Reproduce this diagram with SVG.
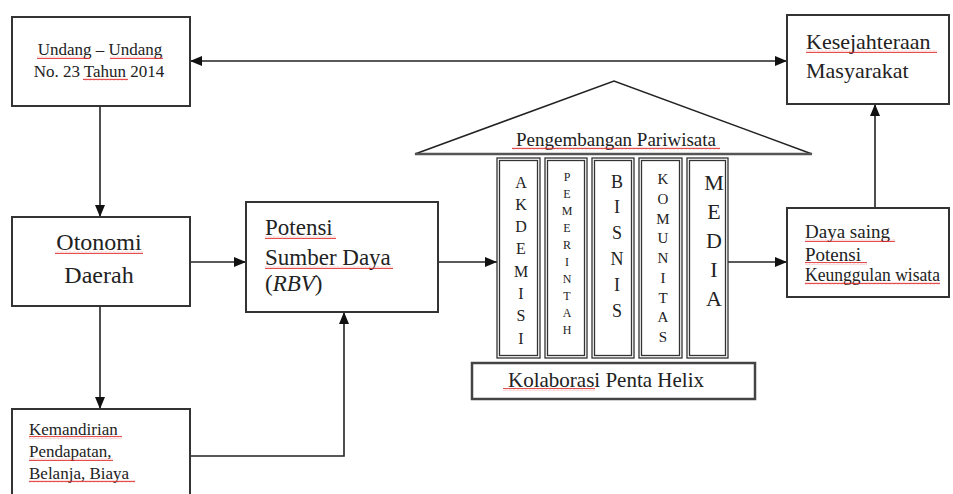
<svg xmlns="http://www.w3.org/2000/svg" width="953" height="494" viewBox="0 0 953 494">
<style>
.box{fill:#fff;stroke:#333;stroke-width:2}
.pl{fill:none;stroke:#333;stroke-width:1.3}
.t{font-family:"Liberation Serif","Times New Roman",serif;fill:#222}
.c{stroke:#222;stroke-width:1.6;fill:none}
.w{fill:url(#wavy)}
</style>
<defs>
<marker id="ah" viewBox="0 0 12 10" markerWidth="12" markerHeight="10" refX="12" refY="5" orient="auto-start-reverse" markerUnits="userSpaceOnUse">
<path d="M0,0 L12,5 L0,10 z" fill="#111"/>
</marker>
<pattern id="wavy" width="4" height="3" patternUnits="userSpaceOnUse">
<path d="M0,2.2 L1,0.8 L2,2.2 L3,0.8 L4,2.2" fill="none" stroke="#e02020" stroke-width="0.8"/>
</pattern>
</defs>
<rect width="953" height="494" fill="#fff"/>

<g id="connectors">
<line class="c" x1="190" y1="61" x2="787" y2="61" marker-start="url(#ah)" marker-end="url(#ah)"/>
<line class="c" x1="100" y1="106" x2="100" y2="217" marker-end="url(#ah)"/>
<line class="c" x1="100" y1="306" x2="100" y2="409" marker-end="url(#ah)"/>
<line class="c" x1="190" y1="262" x2="246" y2="262" marker-end="url(#ah)"/>
<line class="c" x1="438" y1="262" x2="497" y2="262" marker-end="url(#ah)"/>
<polyline class="c" points="190,456 344,456 344,312" marker-end="url(#ah)"/>
<line class="c" x1="728" y1="262" x2="787" y2="262" marker-end="url(#ah)"/>
<line class="c" x1="875" y1="208" x2="875" y2="104" marker-end="url(#ah)"/>
</g>

<g id="undang">
<rect class="box" x="12" y="17" width="178" height="89"/>
<text class="t" x="100" y="55" font-size="17" text-anchor="middle">Undang – Undang</text>
<text class="t" x="99" y="77" font-size="17" text-anchor="middle">No. 23 Tahun 2014</text>
<rect class="w" x="37" y="56" width="53" height="3"/>
<rect class="w" x="110" y="56" width="53" height="3"/>
<rect class="w" x="83" y="78" width="45" height="3"/>
</g>

<g id="kesejahteraan">
<rect class="box" x="787" y="15" width="162" height="89"/>
<text class="t" x="806" y="49" font-size="22">Kesejahteraan</text>
<text class="t" x="806" y="78" font-size="22">Masyarakat</text>
<rect class="w" x="806" y="50" width="131" height="3"/>
</g>

<g id="otonomi">
<rect class="box" x="12" y="217" width="178" height="89"/>
<text class="t" x="99" y="250" font-size="24" text-anchor="middle">Otonomi</text>
<text class="t" x="99" y="283" font-size="24" text-anchor="middle">Daerah</text>
<rect class="w" x="55" y="251" width="88" height="3"/>
</g>

<g id="potensi">
<rect class="box" x="246" y="202" width="192" height="110"/>
<text class="t" x="265" y="235" font-size="23">Potensi</text>
<text class="t" x="265" y="265" font-size="23">Sumber Daya</text>
<text class="t" x="265" y="291" font-size="23">(<tspan font-style="italic">RBV</tspan>)</text>
<rect class="w" x="265" y="236" width="71" height="3"/>
<rect class="w" x="265" y="266" width="128" height="3"/>
</g>

<g id="kemandirian">
<rect class="box" x="12" y="409" width="178" height="100"/>
<text class="t" x="29" y="435" font-size="17">Kemandirian</text>
<text class="t" x="29" y="457" font-size="17">Pendapatan,</text>
<text class="t" x="29" y="479" font-size="17">Belanja, Biaya</text>
<rect class="w" x="29" y="436" width="93" height="3"/>
<rect class="w" x="29" y="458" width="84" height="3"/>
<rect class="w" x="29" y="480" width="106" height="3"/>
</g>

<g id="pengembangan">
<polygon points="415,154 614,81 812,154" fill="#fff" stroke="#222" stroke-width="1.5"/>
<line x1="415" y1="154" x2="812" y2="154" stroke="#555" stroke-width="2.5"/>
<text class="t" x="616" y="146" font-size="19" text-anchor="middle">Pengembangan Pariwisata</text>
<rect class="w" x="512" y="147" width="208" height="3"/>
</g>

<g id="akdemisi">
<rect class="pl" x="497" y="158" width="43" height="200"/>
<rect class="pl" x="499.5" y="160.5" width="38" height="195"/>
<text class="t" font-size="16" text-anchor="middle"><tspan x="521" y="187.5">A</tspan><tspan x="521" dy="22.3">K</tspan><tspan x="521" dy="22.3">D</tspan><tspan x="521" dy="22.3">E</tspan><tspan x="521" dy="22.3">M</tspan><tspan x="521" dy="22.3">I</tspan><tspan x="521" dy="22.3">S</tspan><tspan x="521" dy="22.3">I</tspan></text>
</g>

<g id="pemerintah">
<rect class="pl" x="545" y="158" width="42" height="200"/>
<rect class="pl" x="547.5" y="160.5" width="37" height="195"/>
<text class="t" font-size="12" text-anchor="middle"><tspan x="567" y="181">P</tspan><tspan x="567" dy="17.03">E</tspan><tspan x="567" dy="17.03">M</tspan><tspan x="567" dy="17.03">E</tspan><tspan x="567" dy="17.03">R</tspan><tspan x="567" dy="17.03">I</tspan><tspan x="567" dy="17.03">N</tspan><tspan x="567" dy="17.03">T</tspan><tspan x="567" dy="17.03">A</tspan><tspan x="567" dy="17.03">H</tspan></text>
</g>

<g id="bisnis">
<rect class="pl" x="592" y="158" width="42" height="200"/>
<rect class="pl" x="594.5" y="160.5" width="37" height="195"/>
<text class="t" font-size="18" text-anchor="middle"><tspan x="617" y="187.5">B</tspan><tspan x="617" dy="25.8">I</tspan><tspan x="617" dy="25.8">S</tspan><tspan x="617" dy="25.8">N</tspan><tspan x="617" dy="25.8">I</tspan><tspan x="617" dy="25.8">S</tspan></text>
</g>

<g id="komunitas">
<rect class="pl" x="639" y="158" width="43" height="200"/>
<rect class="pl" x="641.5" y="160.5" width="38" height="195"/>
<text class="t" font-size="15" text-anchor="middle"><tspan x="663" y="184">K</tspan><tspan x="663" dy="19.75">O</tspan><tspan x="663" dy="19.75">M</tspan><tspan x="663" dy="19.75">U</tspan><tspan x="663" dy="19.75">N</tspan><tspan x="663" dy="19.75">I</tspan><tspan x="663" dy="19.75">T</tspan><tspan x="663" dy="19.75">A</tspan><tspan x="663" dy="19.75">S</tspan></text>
</g>

<g id="media">
<rect class="pl" x="687" y="158" width="41" height="200"/>
<rect class="pl" x="689.5" y="160.5" width="36" height="195"/>
<text class="t" font-size="22" text-anchor="middle"><tspan x="714" y="190">M</tspan><tspan x="714" dy="29">E</tspan><tspan x="714" dy="29">D</tspan><tspan x="714" dy="29">I</tspan><tspan x="714" dy="29">A</tspan></text>
</g>

<g id="kolaborasi">
<rect x="472" y="363" width="283" height="36" fill="#fff" stroke="#444" stroke-width="2.5"/>
<text class="t" x="606" y="387" font-size="21" text-anchor="middle">Kolaborasi Penta Helix</text>
<rect class="w" x="503" y="388" width="92" height="3"/>
</g>

<g id="dayasaing">
<rect class="box" x="787" y="208" width="162" height="89"/>
<text class="t" x="805" y="238" font-size="19">Daya saing</text>
<text class="t" x="805" y="261" font-size="19">Potensi</text>
<text class="t" x="805" y="281" font-size="18" textLength="135" lengthAdjust="spacingAndGlyphs">Keunggulan wisata</text>
<rect class="w" x="805" y="239" width="90" height="3"/>
<rect class="w" x="805" y="262" width="62" height="3"/>
<rect class="w" x="805" y="282" width="135" height="3"/>
</g>
</svg>
